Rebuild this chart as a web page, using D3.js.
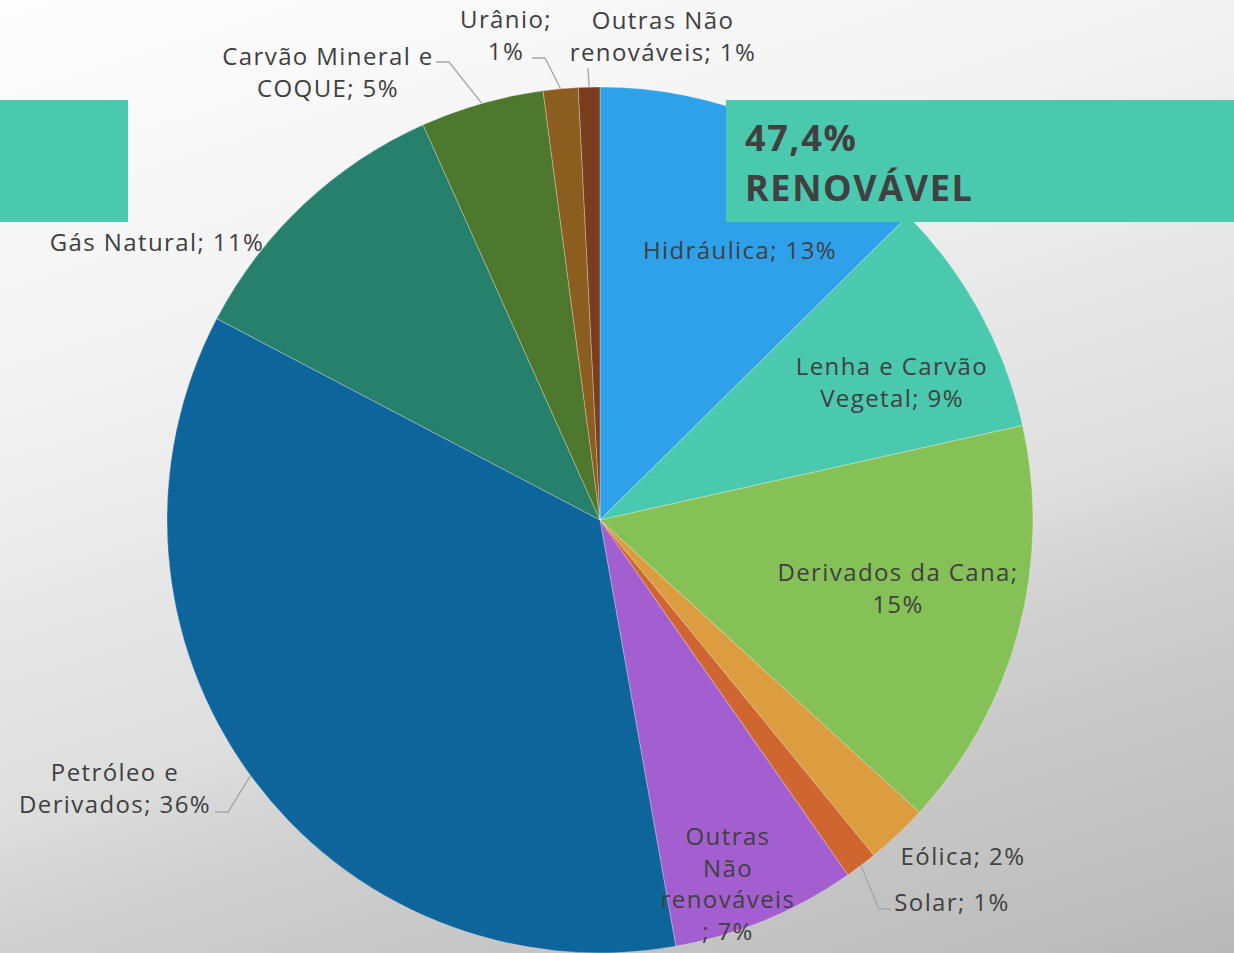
<!DOCTYPE html>
<html>
<head>
    <meta charset="UTF-8">
    <title>Matriz Energética</title>
    <script src="https://d3js.org/d3.v7.min.js"></script>
    <style>
        body { margin: 0; overflow: hidden; }
        text { font-family: "Open Sans", "Lato", sans-serif; fill: #404040; }
    </style>
</head>
<body>
    <div id="chart"></div>
    <script>
        // data (clockwise from 12 o'clock)
        var categories = ["Hidráulica", "Lenha e Carvão Vegetal", "Derivados da Cana", "Eólica", "Solar",
            "Outras Não renováveis", "Petróleo e Derivados", "Gás Natural", "Carvão Mineral e COQUE",
            "Urânio", "Outras Não renováveis"];
        var values = [12.6, 8.9, 15.3, 2.3, 1.2, 6.9, 35.5, 10.6, 4.6, 1.3, 0.8];
        var percentLabels = ["13%", "9%", "15%", "2%", "1%", "7%", "36%", "11%", "5%", "1%", "1%"];
        var colors = ["#2fa1eb", "#4bc9ae", "#86c157", "#dc9d40", "#d0662f", "#a35fd0",
            "#0d659c", "#26806c", "#4e782d", "#8b5e1f", "#7a3d1e"];
        var renewableShare = "47,4%";

        var width = 1234, height = 953;
        var cx = 600, cy = 520, radius = 433;

        // label layout: text lines, anchor (x, y of first line), leader elbow if any
        var labelLayout = [
            {lines: ["Hidráulica; 13%"], x: 740, y: 259},
            {lines: ["Lenha e Carvão", "Vegetal; 9%"], x: 892, y: 375},
            {lines: ["Derivados da Cana;", "15%"], x: 898, y: 581},
            {lines: ["Eólica; 2%"], x: 963, y: 865},
            {lines: ["Solar; 1%"], x: 952, y: 911, leader: [[879, 909], [891, 909]]},
            {lines: ["Outras", "Não", "renováveis", "; 7%"], x: 728, y: 845},
            {lines: ["Petróleo e", "Derivados; 36%"], x: 115, y: 781, leader: [[228, 812], [215, 812]]},
            {lines: ["Gás Natural; 11%"], x: 157, y: 251},
            {lines: ["Carvão Mineral e", "COQUE; 5%"], x: 328, y: 65, leader: [[449, 62], [436, 62]]},
            {lines: ["Urânio;", "1%"], x: 506, y: 28, leader: [[545, 58], [532, 58]]},
            {lines: ["Outras Não", "renováveis; 1%"], x: 663, y: 29, leader: [[588, 68]]}
        ];

        var svg = d3.select("#chart")
            .append("svg")
            .attr("width", width)
            .attr("height", height);

        // background gradient
        var grad = svg.append("defs").append("linearGradient")
            .attr("id", "bg")
            .attr("gradientUnits", "userSpaceOnUse")
            .attr("x1", 0).attr("y1", 0)
            .attr("x2", 384).attr("y2", 1220);
        [[0, "#fdfdfd"], [0.29, "#f3f3f3"], [0.61, "#dedede"], [0.71, "#cfcfcf"], [1, "#b9b9b9"]]
            .forEach(function(s) {
                grad.append("stop").attr("offset", s[0]).attr("stop-color", s[1]);
            });
        svg.append("rect").attr("width", width).attr("height", height).attr("fill", "url(#bg)");

        var pie = d3.pie().sort(null).value(function(d) { return d; });
        var arcs = pie(values);
        var arc = d3.arc().innerRadius(0).outerRadius(radius);

        var g = svg.append("g").attr("transform", "translate(" + cx + "," + cy + ")");

        g.selectAll("path.slice")
            .data(arcs)
            .enter().append("path")
            .attr("class", "slice")
            .attr("d", arc)
            .attr("fill", function(d, i) { return colors[i]; })
            .attr("stroke", "rgba(255,255,255,0.35)")
            .attr("stroke-width", 0.8);

        // leader lines from the slice edge to the label
        arcs.forEach(function(d, i) {
            var lay = labelLayout[i];
            if (!lay.leader) return;
            var mid = (d.startAngle + d.endAngle) / 2;
            var pts = [[cx + radius * Math.sin(mid), cy - radius * Math.cos(mid)]].concat(lay.leader);
            svg.append("polyline")
                .attr("points", pts.map(function(p) { return p.join(","); }).join(" "))
                .attr("fill", "none")
                .attr("stroke", "#a6a6a6")
                .attr("stroke-width", 1.3);
        });

        // decorative boxes
        svg.append("rect").attr("x", 0).attr("y", 100).attr("width", 128).attr("height", 122).attr("fill", "#4bc9ae");
        svg.append("rect").attr("x", 726).attr("y", 100).attr("width", 508).attr("height", 122).attr("fill", "#4bc9ae");

        // slice labels
        labelLayout.forEach(function(lay, i) {
            var t = svg.append("text")
                .attr("text-anchor", "middle")
                .attr("font-size", 24)
                .attr("letter-spacing", 1.4);
            lay.lines.forEach(function(line, j) {
                t.append("tspan")
                    .attr("x", lay.x)
                    .attr("y", lay.y + j * 31.5)
                    .text(line);
            });
        });

        // renewable headline
        var head = svg.append("text")
            .attr("font-family", "Lato, sans-serif")
            .attr("font-size", 36)
            .attr("font-weight", "bold")
            .attr("letter-spacing", 1.6);
        head.append("tspan").attr("x", 745).attr("y", 151).text(renewableShare);
        head.append("tspan").attr("x", 745).attr("y", 201).text("RENOVÁVEL");
    </script>
</body>
</html>
